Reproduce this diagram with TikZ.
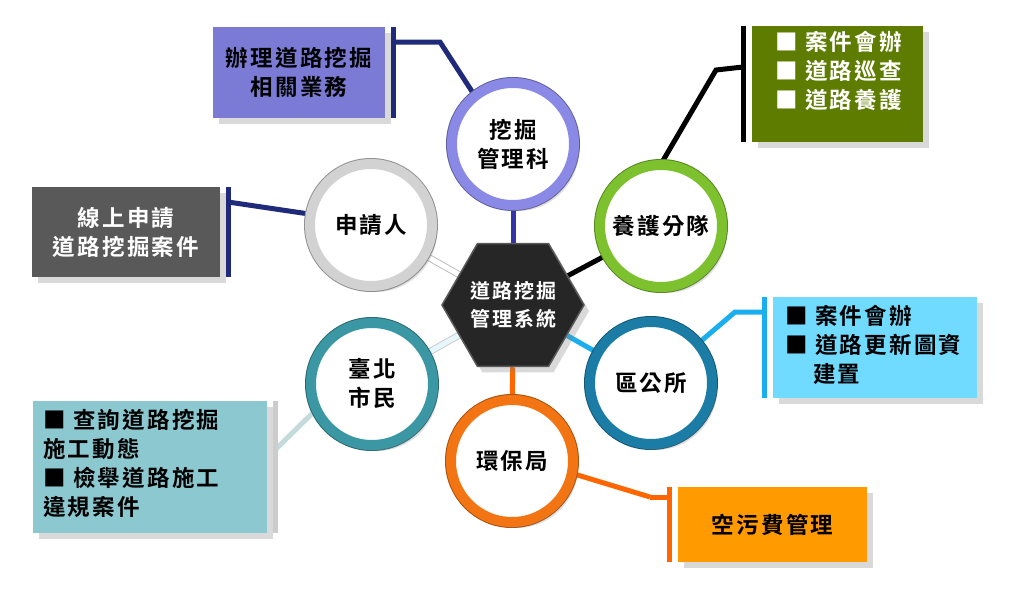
\documentclass[tikz,border=0pt]{standalone}
\usepackage{fontspec}
\newfontfamily\cjk{Noto Sans CJK TC}[BoldFont={Noto Sans CJK TC Bold}, LetterSpace=10]
\usetikzlibrary{shapes.geometric,shadows,backgrounds}
\definecolor{purplebox}{HTML}{7B7BD6}
\definecolor{purplering}{HTML}{8A8AE6}
\definecolor{navyline}{HTML}{1F2A7A}
\definecolor{topline}{HTML}{3434A8}
\definecolor{greenbox}{HTML}{5E7D00}
\definecolor{greenring}{HTML}{7DC22E}
\definecolor{graybox}{HTML}{595959}
\definecolor{grayring}{HTML}{D2D2D2}
\definecolor{lbbox}{HTML}{70DAFF}
\definecolor{lbline}{HTML}{1AAEEF}
\definecolor{lbring}{HTML}{1B7DA6}
\definecolor{tealbox}{HTML}{8CC8CF}
\definecolor{tealring}{HTML}{3C97A5}
\definecolor{tealline}{HTML}{C5DADA}
\definecolor{orangebox}{HTML}{FF9A00}
\definecolor{orangeline}{HTML}{FF6600}
\definecolor{orangering}{HTML}{F27412}
\definecolor{hexfill}{HTML}{262626}
\tikzset{
  ring/.style={circle, minimum size=122, fill=white, draw=#1, line width=10,
    preaction={draw=#1!70!black, line width=12},
    drop shadow={opacity=0.25, shadow xshift=5pt, shadow yshift=-6pt},
    align=center, inner sep=0},
  box/.style={rectangle, fill=#1, inner sep=0,
    drop shadow={opacity=0.3, shadow xshift=6pt, shadow yshift=-6pt}},
  conn/.style={line width=5, draw=#1},
  bartip/.style={line width=5, draw=#1},
  txt/.style={inner sep=0, align=left},
}
\begin{document}
\begin{tikzpicture}[x=1pt,y=-1pt, font=\cjk\bfseries\fontsize{22.5}{29}\selectfont]
\useasboundingbox (0,0) rectangle (1021,605);

% hexagon
\node[regular polygon, regular polygon sides=6, minimum size=142, inner sep=0,
  fill=hexfill, draw=gray!70!black, line width=1.5, text=white, align=center,
  font=\cjk\bfseries\fontsize{20}{28}\selectfont,
  drop shadow={opacity=0.3, shadow xshift=5pt, shadow yshift=-6pt}]
  (hex) at (513,305) {道路挖掘\\管理系統};

% circles
\node[ring=purplering] (c1) at (513,144) {挖掘\\管理科};
\node[ring=greenring] (c2) at (661,226) {養護分隊};
\node[ring=grayring] (c3) at (371,225) {申請人};
\node[ring=lbring] (c4) at (651,383) {區公所};
\node[ring=orangering] (c5) at (512,461) {環保局};
\node[ring=tealring] (c6) at (372,384) {臺北\\市民};

% boxes
\node[box=purplebox, minimum width=172, minimum height=91] (b1) at (299,72.5) {};
\node[txt, align=center] (t1) at (b1) {辦理道路挖掘\\相關業務};
\node[box=greenbox, minimum width=171, minimum height=116] (b2) at (837.5,84) {};
\node[txt, text=white, anchor=north west] (t2) at (775,31) {■ 案件會辦\\■ 道路巡查\\■ 道路養護};
\node[box=graybox, minimum width=188, minimum height=90] (b3) at (126,232) {};
\node[txt, align=center, text=white] (t3) at (b3) {線上申請\\道路挖掘案件};
\node[box=lbbox, minimum width=204, minimum height=101] (b4) at (875,347.5) {};
\node[txt, anchor=north west] (t4) at (785,305) {■ 案件會辦\\■ 道路更新圖資\\\hspace*{28pt}建置};
\node[box=tealbox, minimum width=234, minimum height=132] (b6) at (150,467) {};
\node[txt, anchor=north west] (t6) at (43,409) {■ 查詢道路挖掘\\施工動態\\■ 檢舉道路施工\\違規案件};
\node[box=orangebox, minimum width=189, minimum height=75] (b5) at (772.5,524.5) {};
\node[txt] (t5) at (b5) {空污費管理};

% bar coordinates
\coordinate (p1) at (393,27); \coordinate (p2) at (393,118);
\coordinate (g1) at (743,26); \coordinate (g2) at (743,142);
\coordinate (k1) at (228,187); \coordinate (k2) at (228,277);
\coordinate (l1) at (764,297); \coordinate (l2) at (764,398);
\coordinate (m1) at (275,401); \coordinate (m2) at (275,533);
\coordinate (o1) at (669,487); \coordinate (o2) at (669,562);
\coordinate (pj) at (393,42); \coordinate (pk) at (440,42);
\coordinate (gj) at (743,67); \coordinate (gk) at (716,70);
\coordinate (kj) at (228,202);
\coordinate (lj) at (764,312); \coordinate (lk) at (735,312);
\coordinate (mj) at (275,450);
\coordinate (oj) at (669,497); \coordinate (ok) at (650,497);

\begin{pgfonlayer}{background}
% hub connectors
\draw[conn=topline] (hex) -- (c1);
\draw[conn=black] (hex) -- (c2);
\draw[line width=7, draw=gray!50] (hex) -- (c3);
\draw[line width=5, draw=white] (hex) -- (c3);
\draw[line width=7, draw=gray!40] (hex) -- (c6);
\draw[line width=5, draw=cyan!10] (hex) -- (c6);
\draw[conn=lbline] (hex) -- (c4);
\draw[conn=orangeline] (hex) -- (c5);
% box connectors
\draw[conn=navyline] (pj) -- (pk) -- (c1.128);
\draw[conn=black] (gj) -- (gk) -- (c2.88);
\draw[conn=navyline] (kj) -- (c3.170);
\draw[conn=lbline] (lj) -- (lk) -- (c4.40);
\draw[conn=tealline] (mj) -- (c6.206);
\draw[conn=orangeline] (ok) -- (oj);
\draw[conn=orangeline] (ok) -- (c5.-12);
\end{pgfonlayer}

% bars
\draw[bartip=navyline] (p1) -- (p2);
\draw[bartip=black] (g1) -- (g2);
\draw[bartip=navyline] (k1) -- (k2);
\draw[bartip=lbline] (l1) -- (l2);
\draw[bartip=gray!40] (m1) -- (m2);
\draw[bartip=orangeline] (o1) -- (o2);
\end{tikzpicture}
\end{document}
